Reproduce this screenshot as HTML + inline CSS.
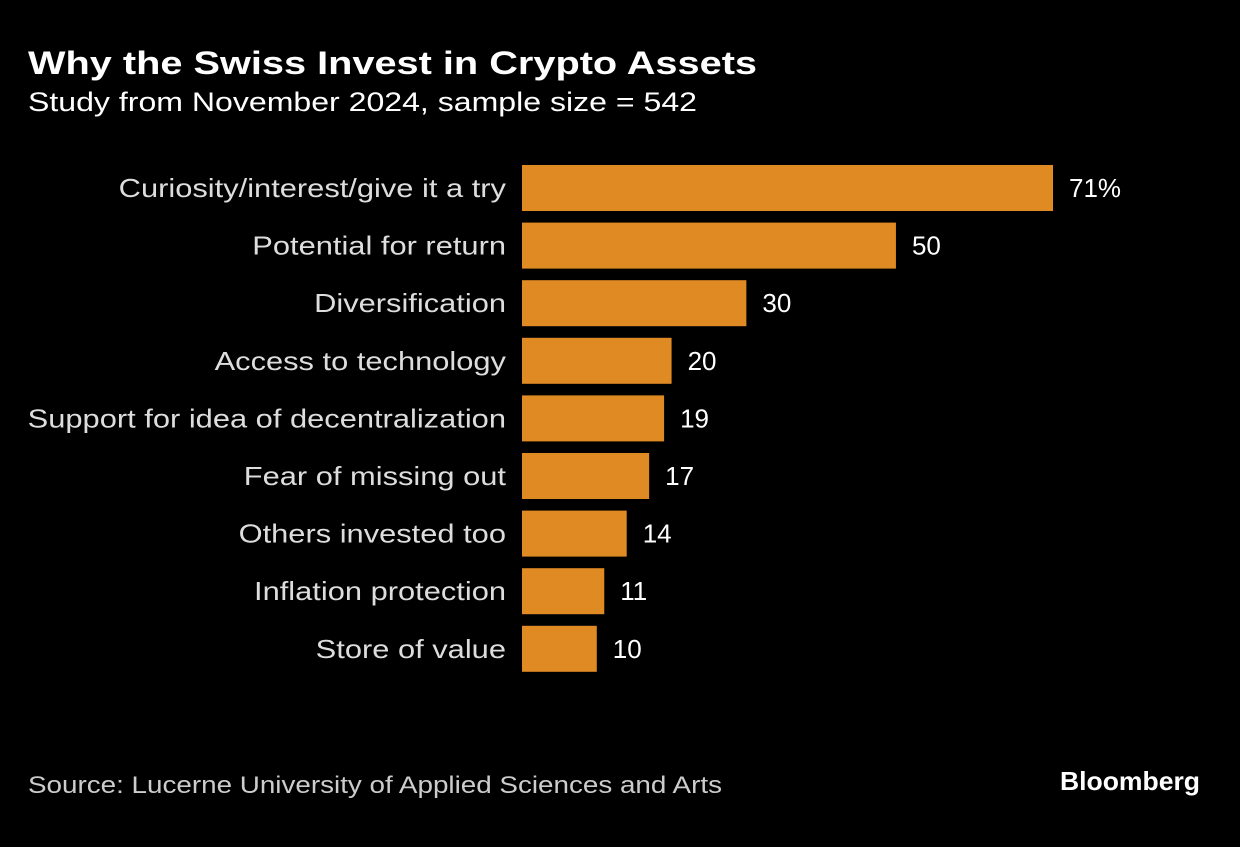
<!DOCTYPE html>
<html><head><meta charset="utf-8"><style>
body{margin:0;background:#000;width:1240px;height:842px;overflow:hidden;font-family:"Liberation Sans",sans-serif}
</style></head><body>
<svg width="1240" height="842">
<rect width="1240" height="842" fill="#000"/>
<text x="28" y="74" fill="#fff" font-size="32" font-weight="bold" textLength="729" lengthAdjust="spacingAndGlyphs">Why the Swiss Invest in Crypto Assets</text>
<text x="28" y="111" fill="#fff" font-size="27" textLength="669" lengthAdjust="spacingAndGlyphs">Study from November 2024, sample size = 542</text>
<g id="bars"></g>
<text x="28" y="793" fill="#ccc" font-size="24" textLength="694" lengthAdjust="spacingAndGlyphs">Source: Lucerne University of Applied Sciences and Arts</text>
<text x="1200" y="790" fill="#fff" font-size="26" font-weight="bold" text-anchor="end" textLength="140" lengthAdjust="spacingAndGlyphs">Bloomberg</text>
</svg>
<script>
const categories=["Curiosity/interest/give it a try","Potential for return","Diversification","Access to technology","Support for idea of decentralization","Fear of missing out","Others invested too","Inflation protection","Store of value"];
const values=[71,50,30,20,19,17,14,11,10];
const valueLabels=["71%","50","30","20","19","17","14","11","10"];
const ns="http://www.w3.org/2000/svg";
const g=document.getElementById('bars');
const x0=522,scale=531/71,top0=165,pitch=57.6,bh=46;
const xs=v=>v*scale, ys=i=>top0+i*pitch;
categories.forEach((c,i)=>{
  const y=ys(i);
  const r=document.createElementNS(ns,'rect');
  r.setAttribute('x',x0);r.setAttribute('y',y);r.setAttribute('width',xs(values[i]));r.setAttribute('height',bh);r.setAttribute('fill','#E08A24');
  
  
  g.appendChild(r);
  const t=document.createElementNS(ns,'text');
  t.setAttribute('x',506);t.setAttribute('y',y+bh/2+9);t.setAttribute('text-anchor','end');t.setAttribute('fill','#ddd');t.setAttribute('font-size','26');
  t.textContent=c;
  
  
  g.appendChild(t);
  const w=t.getComputedTextLength();
  t.setAttribute('textLength',(w*1.186).toFixed(1));
  t.setAttribute('lengthAdjust','spacingAndGlyphs');
  const v=document.createElementNS(ns,'text');
  v.setAttribute('x',x0+xs(values[i])+16);v.setAttribute('y',y+bh/2+9);v.setAttribute('fill','#fff');v.setAttribute('font-size','26');
  v.textContent=valueLabels[i];
  
  
  g.appendChild(v);
});
</script>
</body></html>
